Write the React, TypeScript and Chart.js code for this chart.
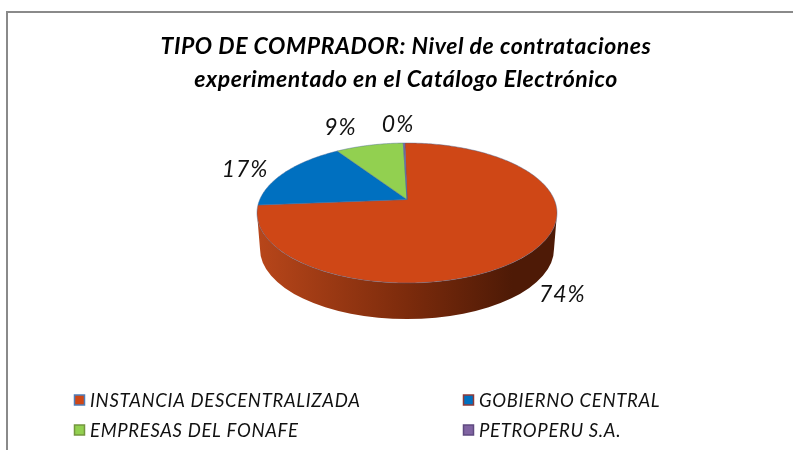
import React, { useEffect, useRef } from "react";
import { Chart, registerables } from "chart.js";

Chart.register(...registerables);

const categories = ["INSTANCIA DESCENTRALIZADA", "GOBIERNO CENTRAL", "EMPRESAS DEL FONAFE", "PETROPERU S.A."];
const shares = [74, 17, 8.8, 0.2];
const sliceColors = ["#CF4716", "#0070C0", "#92D050", "#8064A2"];
const swatchBorders = ["#4F7DB8", "#8E3A38", "#74963F", "#5F4A80"];
const titleLines = ["TIPO DE COMPRADOR: Nivel de contrataciones", "experimentado en el Catálogo Electrónico"];
const FONT = "Lato";

// Top face of the 3D pie: a projected disc whose apex sits above the ellipse centre
const CX = 407, CY = 213, RX = 150, RY = 70, TILT = -0.193, DEPTH = 36;

function project(angle: number, r = 1) {
  const X = Math.cos(angle) * r, Y = Math.sin(angle) * r;
  const d = 1 + TILT * Y;
  return { x: CX + (RX * X * Math.sqrt(1 - TILT * TILT)) / d, y: CY + (RY * (Y + TILT)) / d };
}

const pie3d = {
  id: "pie3d",
  beforeDraw(chart: any) {
    const { ctx } = chart;
    ctx.save();
    ctx.fillStyle = "#FFFFFF";
    ctx.fillRect(0, 0, chart.width, chart.height);
    ctx.fillStyle = "#8A8A8A";
    ctx.fillRect(6, 11, chart.width - 6, 2);
    ctx.fillRect(6, 11, 2, chart.height - 11);
    ctx.restore();
    ctx.letterSpacing = "0.55px"; // used by the title
  },
  beforeDatasetDraw(chart: any, args: any) {
    const { ctx } = chart;
    const arcs = args.meta.data;
    ctx.save();
    // side wall
    const g = ctx.createLinearGradient(CX - RX, 0, CX + RX, 0);
    g.addColorStop(0, "#B8461A");
    g.addColorStop(0.5, "#7C2B0C");
    g.addColorStop(0.85, "#4E1A06");
    g.addColorStop(1, "#4E1A06");
    ctx.beginPath();
    ctx.ellipse(CX, CY, RX, RY, 0, 0, Math.PI);
    ctx.lineTo(CX - RX + 3, CY + DEPTH);
    ctx.ellipse(CX, CY + DEPTH, RX - 3, RY, 0, Math.PI, 0, true);
    ctx.closePath();
    ctx.fillStyle = g;
    ctx.fill();
    // top face
    arcs.forEach((arc: any, i: number) => {
      const { startAngle, endAngle } = arc;
      const apex = project(0, 0);
      ctx.beginPath();
      ctx.moveTo(apex.x, apex.y);
      const n = Math.max(2, Math.ceil(((endAngle - startAngle) * 180) / Math.PI));
      for (let k = 0; k <= n; k++) {
        const p = project(startAngle + ((endAngle - startAngle) * k) / n);
        ctx.lineTo(p.x, p.y);
      }
      ctx.closePath();
      ctx.fillStyle = sliceColors[i];
      ctx.fill();
      ctx.strokeStyle = "rgba(70,100,150,0.55)";
      ctx.lineWidth = 0.8;
      ctx.stroke();
    });
    ctx.restore();
    return false;
  },
  afterDatasetsDraw(chart: any) {
    const { ctx } = chart;
    const arcs = chart.getDatasetMeta(0).data;
    const offsets = [[30, 43], [-40, -3], [-29, -18], [-6, -18]];
    ctx.save();
    ctx.fillStyle = "#111111";
    ctx.textAlign = "center";
    ctx.textBaseline = "middle";
    ctx.font = `italic 23px ${FONT}`;
    ctx.letterSpacing = "1px";
    arcs.forEach((arc: any, i: number) => {
      const p = project((arc.startAngle + arc.endAngle) / 2);
      ctx.fillText(`${Math.round(shares[i])}%`, p.x + offsets[i][0], p.y + offsets[i][1]);
    });
    // legend, two columns
    const cols = [74, 463];
    const rows = [400, 430];
    ctx.textAlign = "left";
    ctx.font = `italic 18.5px ${FONT}`;
    ctx.letterSpacing = "0.68px";
    categories.forEach((label, i) => {
      const x = cols[i % 2], y = rows[Math.floor(i / 2)];
      ctx.fillStyle = sliceColors[i];
      ctx.strokeStyle = swatchBorders[i];
      ctx.lineWidth = 1.5;
      ctx.fillRect(x + 0.5, y - 5, 10, 10);
      ctx.strokeRect(x + 0.5, y - 5, 10, 10);
      ctx.fillStyle = "#111111";
      ctx.fillText(label, x + 16, y + 1);
    });
    ctx.restore();
  },
};

export default function App() {
  const ref = useRef<HTMLCanvasElement>(null);
  useEffect(() => {
    const chart = new Chart(ref.current!, {
      type: "pie",
      data: {
        labels: categories,
        datasets: [{ data: shares, backgroundColor: sliceColors, borderWidth: 0 }],
      },
      options: {
        responsive: false,
        animation: false,
        rotation: -1,
        layout: { padding: { top: 30, left: 19 } },
        plugins: {
          legend: { display: false },
          tooltip: { enabled: false },
          title: {
            display: true,
            text: titleLines,
            color: "#000000",
            font: { family: FONT, size: 23, weight: "bold", style: "italic", lineHeight: 33 / 23 },
            padding: 0,
          },
        },
      },
      plugins: [pie3d],
    } as any);
    return () => chart.destroy();
  }, []);
  return (
    <div style={{ position: "absolute", left: 0, top: 0, width: 793, height: 450 }}>
      <canvas ref={ref} width={793} height={450} style={{ display: "block" }} />
    </div>
  );
}
